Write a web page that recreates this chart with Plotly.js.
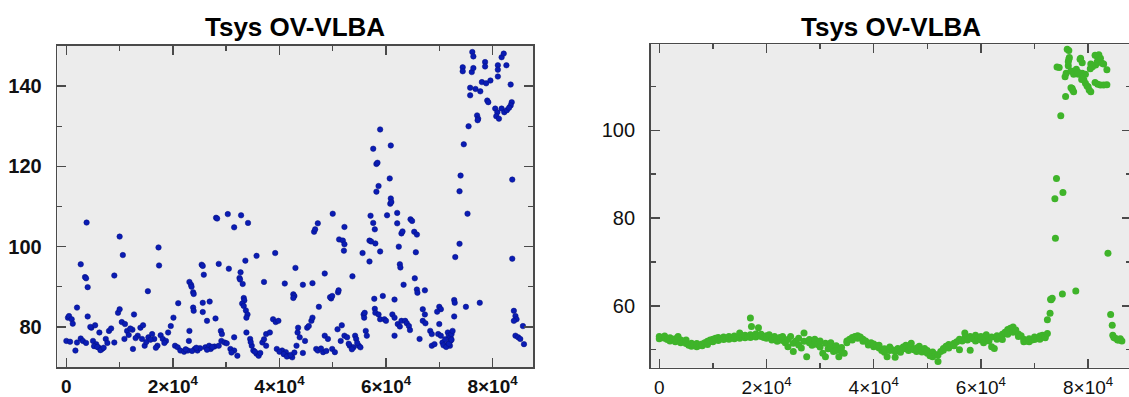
<!DOCTYPE html>
<html><head><meta charset="utf-8">
<script src="https://cdn.plot.ly/plotly-3.0.1.min.js"></script>
<style>html,body{margin:0;padding:0;overflow:hidden;background:#fff;}#chart{width:1134px;height:397px;}</style>
</head><body><div id="chart"></div>
<script>
// ---- data (x in units of 1e4, y = Tsys) ----
const blueX = [7.62,7.64,7.44,7.44,7.61,7.64,7.86,7.86,8.10,8.10,8.17,8.21,8.26,8.34,7.58,7.68,7.77,7.80,7.88,7.96,7.58,7.90,7.92,7.71,7.73,7.72,7.55,8.05,8.09,8.07,8.12,8.17,8.22,8.27,8.36,8.34,8.31,8.10,7.46,7.40,7.38,8.37,
6.09,5.89,5.76,5.82,5.84,6.07,5.86,5.82,6.09,6.08,6.10,
0.38,0.27,0.35,0.37,0.40,1.00,1.06,0.90,1.53,1.73,1.74,2.81,2.83,3.03,3.15,3.28,3.41,2.86,3.05,2.54,2.56,2.58,2.31,2.34,2.35,2.38,2.39,2.10,2.69,2.56,2.38,2.39,2.56,2.64,2.80,3.27,3.25,3.26,3.31,3.36,3.57,3.33,3.34,3.30,3.33,3.37,3.40,3.38,3.92,3.71,4.10,4.30,4.44,4.26,4.28,4.26,4.62,4.65,4.67,4.72,4.74,4.85,4.97,4.95,4.99,5.10,5.11,5.00,5.12,5.19,5.22,5.21,5.22,5.37,5.56,5.69,5.71,5.76,5.79,5.69,5.72,5.80,5.89,6.02,6.21,6.21,6.29,6.31,6.24,6.26,6.27,6.33,6.46,6.49,6.53,6.58,6.56,6.54,6.58,6.59,6.73,5.78,5.94,6.16,7.30,7.38,7.53,7.76,7.50,7.28,7.29,7.28,7.00,7.03,6.96,8.37,
0.00,0.07,0.03,0.05,0.10,0.17,0.20,0.20,0.27,0.31,0.37,0.40,0.47,0.54,0.50,0.56,0.60,0.67,0.62,0.74,0.77,0.80,0.84,0.90,0.97,1.00,
1.04,1.10,1.14,1.09,1.17,1.24,1.27,1.25,1.34,1.39,1.44,1.47,1.54,1.61,1.65,1.71,1.77,1.81,1.87,1.91,1.96,2.01,
2.04,2.09,2.14,2.21,2.28,2.30,2.31,2.41,2.46,2.51,2.61,2.68,2.71,2.78,2.86,2.91,2.97,3.01,2.90,2.92,3.08,3.15,3.21,3.15,
3.38,3.45,3.48,3.51,3.57,3.61,3.68,3.71,3.75,3.82,3.75,3.88,3.93,3.98,3.95,4.05,
4.12,4.18,4.24,4.32,4.34,4.35,4.38,4.44,4.48,4.52,4.55,4.60,4.62,4.69,4.72,4.82,4.85,4.91,4.99,5.04,
5.09,5.15,5.17,5.22,5.27,5.32,5.39,5.42,5.44,5.49,5.52,5.58,5.59,5.60,5.62,5.64,5.79,5.80,5.86,5.89,5.97,6.00,
6.12,6.16,6.16,6.22,6.26,6.29,6.36,6.39,6.43,6.45,6.63,6.69,6.73,6.69,6.74,6.83,6.86,6.86,6.91,7.00,6.98,7.03,
7.06,7.11,7.16,7.18,7.21,7.23,7.21,7.25,7.16,7.20,
8.40,8.43,8.45,8.57,8.43,8.48,8.52,8.59,8.40,
0.12,0.45,0.52,0.58,0.64,0.70,1.20,1.30,1.42,1.50,1.58,1.68,1.84,2.24,2.36,2.44,2.64,2.74,3.10,3.46,3.54,3.64,4.00,4.08,4.14,4.21,4.28,4.78,4.88,5.30,5.36,5.46,7.08,7.13,7.18,7.23];
const blueY = [148.5,147.4,144.7,143.7,143.5,144.5,146.0,144.9,145.2,144.1,147.2,148.1,145.2,140.4,139.6,139.3,138.7,141.0,140.7,141.4,137.7,136.4,136.0,132.7,131.9,131.5,130.0,134.4,133.5,132.5,131.9,134.4,133.5,134.0,136.0,135.2,134.6,142.4,125.5,117.7,113.8,116.7,
125.2,129.2,124.4,120.6,120.9,117.0,115.1,113.7,112.0,110.7,111.1,
106.0,95.6,92.4,92.1,89.9,102.5,97.9,92.8,88.9,99.8,95.3,107.2,107.0,108.1,104.8,107.8,105.9,95.7,94.5,95.5,95.2,93.0,91.2,90.5,90.0,88.6,88.2,85.9,86.3,86.0,84.8,84.0,83.7,81.5,82.1,93.6,92.2,91.8,90.7,96.5,97.7,87.2,86.6,85.8,85.2,84.1,83.1,82.3,98.4,91.2,90.8,94.7,90.5,88.1,87.7,87.2,90.9,103.7,104.3,105.8,85.0,93.3,87.1,87.4,87.7,88.6,89.1,108.2,101.8,101.5,100.6,99.0,104.9,92.6,98.4,96.3,107.7,105.9,104.3,101.5,101.3,100.8,98.8,107.8,108.4,105.8,103.3,103.8,100.0,95.6,94.8,90.5,106.8,106.4,103.7,103.0,98.6,92.1,89.3,88.5,89.1,87.0,87.7,86.8,97.4,100.7,108.2,86.0,85.0,86.7,86.0,82.6,85.0,84.4,83.8,97.0,
76.5,76.3,82.3,82.7,81.9,74.1,84.8,76.1,77.1,76.5,76.0,82.6,79.8,80.4,76.5,75.7,74.9,74.5,78.6,77.0,76.0,79.0,79.6,76.1,83.5,84.4,
81.2,80.7,79.0,77.0,78.0,79.3,83.1,74.5,77.8,79.8,80.4,75.3,77.4,78.2,77.0,75.3,77.9,77.0,76.5,78.6,80.2,82.3,
75.3,74.9,74.1,73.8,74.1,76.5,79.0,74.5,74.1,74.7,74.9,75.3,74.5,75.1,75.3,76.5,76.1,75.9,79.0,78.2,74.5,74.1,72.8,77.4,
78.6,77.0,75.3,74.1,73.3,72.8,76.1,76.9,78.2,78.6,75.3,81.9,81.2,81.5,74.5,74.1,
73.7,72.8,72.4,75.3,78.6,79.8,77.4,73.5,76.5,79.8,80.2,81.5,82.3,74.5,74.1,73.7,77.8,77.0,74.5,73.7,
79.4,76.5,80.4,77.8,77.4,75.3,74.9,77.8,77.0,75.3,74.9,83.1,82.3,83.5,79.0,77.8,84.5,83.5,83.1,81.9,81.9,81.5,
83.1,82.3,77.8,80.7,80.1,81.5,81.5,80.9,80.2,79.2,77.0,84.4,83.1,81.5,80.9,79.0,78.2,75.3,75.7,80.7,78.2,77.8,
76.1,76.9,78.6,77.8,77.4,78.2,76.5,79.0,75.7,75.3,
84.0,82.7,81.9,80.2,77.8,77.4,77.0,75.7,81.5,
80.8,80.0,75.2,75.0,74.2,74.8,79.6,77.2,77.0,76.2,76.8,74.8,76.0,74.4,74.0,74.8,74.3,75.0,73.6,76.2,73.8,73.5,73.8,73.2,72.6,73.0,73.6,74.6,74.0,75.8,74.4,76.0,75.4,75.0,75.8,76.8];

const greenX = [0.00,0.00,0.05,0.10,0.10,0.15,0.20,0.20,0.25,0.30,0.30,0.35,0.40,0.40,0.45,0.50,0.50,0.55,0.60,0.60,0.65,0.70,0.70,0.75,0.80,0.80,0.85,0.90,0.90,0.95,
1.00,1.00,1.05,1.10,1.10,1.15,1.20,1.20,1.25,1.30,1.30,1.35,1.40,1.40,1.45,1.50,1.50,1.55,1.60,1.60,1.65,1.70,1.70,1.70,1.72,1.75,1.80,1.80,1.85,1.85,1.90,1.90,1.95,
2.00,2.00,2.05,2.10,2.10,2.15,2.20,2.20,2.25,2.30,2.30,2.35,2.40,2.40,2.45,2.50,2.50,2.55,2.60,2.60,2.65,2.70,2.70,2.75,2.80,2.80,2.85,2.90,2.90,2.95,
3.00,3.00,3.05,3.10,3.10,3.15,3.20,3.20,3.25,3.30,3.30,3.35,3.40,3.40,3.45,3.50,3.50,3.55,3.60,3.60,3.65,3.70,3.70,3.75,3.80,3.80,3.85,3.90,3.90,3.95,
4.00,4.00,4.05,4.10,4.10,4.15,4.20,4.20,4.25,4.30,4.30,4.35,4.40,4.40,4.45,4.50,4.50,4.55,4.60,4.60,4.65,4.70,4.70,4.75,4.80,4.80,4.85,4.90,4.90,4.95,
5.00,5.00,5.05,5.10,5.10,5.15,5.20,5.20,5.25,5.30,5.30,5.35,5.40,5.40,5.45,5.50,5.50,5.55,5.60,5.60,5.65,5.70,5.70,5.75,5.80,5.80,5.85,5.90,5.90,5.95,
6.00,6.00,6.05,6.10,6.10,6.15,6.20,6.20,6.25,6.30,6.30,6.35,6.40,6.40,6.45,6.50,6.50,6.55,6.60,6.60,6.65,6.70,6.70,6.75,6.80,6.80,6.85,6.90,6.90,6.95,
7.00,7.00,7.05,7.10,7.10,7.15,7.20,7.20,7.24,
7.24,7.29,7.31,7.33,7.30,7.39,7.38,7.41,7.53,7.52,7.77,8.37,8.42,8.45,8.46,8.48,8.51,8.55,8.57,8.63,8.60,
7.61,7.64,7.46,7.42,7.49,7.58,7.63,7.64,7.65,7.63,7.86,7.89,7.70,7.73,7.76,7.82,7.89,7.95,7.92,7.95,8.00,8.02,8.05,8.14,8.17,8.17,8.20,8.23,8.26,8.29,8.35,8.23,8.29,8.35,8.13,8.18,7.57,7.59,7.68,7.73,7.78,7.81,7.85,7.88,7.98,8.05,8.08,8.13,8.04,7.68,7.71];
const greenY = [53.0,52.5,52.8,52.6,53.1,52.3,52.7,52.0,52.4,51.8,52.5,53.0,52.2,51.6,51.9,51.4,52.2,51.0,50.8,51.5,51.2,50.7,51.4,51.0,51.3,50.9,51.6,51.9,51.2,52.2,
52.4,51.8,52.6,52.1,52.8,52.5,52.9,52.3,52.6,52.4,53.0,52.7,53.1,52.5,52.8,53.8,52.6,53.0,52.7,53.3,53.0,53.4,52.8,57.2,55.3,53.2,53.6,52.9,53.3,55.0,53.0,53.5,52.8,
53.2,52.6,53.4,52.7,52.2,53.0,52.4,51.9,52.8,52.1,53.0,51.6,50.7,52.3,53.0,51.5,49.6,52.0,51.1,52.6,50.4,53.8,51.9,48.4,51.6,52.3,51.0,51.9,52.4,51.2,
50.6,52.0,49.2,51.5,48.4,50.2,50.7,51.6,49.6,50.9,49.8,48.4,49.6,50.5,49.2,52.0,51.6,52.4,52.8,52.2,53.0,53.2,52.6,52.9,52.4,51.9,52.0,51.5,51.1,51.6,
50.7,51.3,50.9,50.4,51.0,49.8,50.2,49.4,48.4,50.6,49.8,50.0,48.3,49.6,50.3,50.0,49.4,50.6,51.0,50.2,49.8,50.3,51.5,50.0,49.6,50.4,50.8,50.1,49.5,50.3,
49.2,49.8,48.6,49.5,48.4,48.9,47.3,48.8,49.6,50.3,49.9,50.8,51.2,50.4,51.0,51.5,50.9,51.8,52.4,50.0,52.0,52.7,53.8,52.2,53.0,49.9,52.5,53.3,52.0,52.7,
52.2,53.0,51.6,52.6,53.4,52.0,52.9,50.7,50.3,52.4,53.2,52.8,53.5,52.3,54.0,54.6,53.5,54.9,55.2,54.0,54.5,53.6,53.0,53.2,52.4,51.8,52.0,51.8,52.5,52.2,
52.9,52.3,52.6,53.1,52.4,53.3,53.0,52.7,53.7,
56.8,58.3,61.4,61.7,61.5,75.4,84.4,89.0,85.8,62.7,63.4,72.0,58.0,55.6,53.3,52.8,52.6,52.2,52.2,52.0,52.5,
118.5,118.2,114.3,114.4,103.3,107.7,114.7,116.2,116.6,115.6,116.4,115.4,109.6,108.8,113.4,112.8,113.0,112.8,111.5,110.7,109.9,109.2,108.8,114.9,115.6,116.8,117.2,116.4,115.3,115.1,113.8,110.3,110.3,110.4,110.9,110.5,112.2,113.0,113.5,112.8,113.9,113.3,116.2,111.6,110.1,115.1,114.5,117.1,114.0,109.7,109.2];

const xTickVals = [0, 20000, 40000, 60000, 80000];
const xTickText = ['0', '2×10<sup>4</sup>', '4×10<sup>4</sup>', '6×10<sup>4</sup>', '8×10<sup>4</sup>'];
const xMinorVals = [10000, 30000, 50000, 70000];
const titleText = 'Tsys OV-VLBA';

// ---- layout ----
const W = 1134, H = 397;
const scale = v => v * 10000;
const axCol = '#4a4a4a';
function xAxis(dom, range, bold, anchor) {
  return {domain: dom, range: range, anchor: anchor, tickmode: 'array', tickvals: xTickVals, ticktext: xTickText,
    ticks: 'inside', ticklen: 9, tickwidth: 1.4, tickcolor: axCol, showline: true, linecolor: axCol, linewidth: 1.6,
    mirror: 'ticks', showgrid: false, zeroline: false, ticklabelstandoff: 2,
    tickfont: {family: 'Liberation Sans, Arial, sans-serif', size: 19, color: '#111', weight: bold ? 'bold' : 'normal'},
    minor: {tickmode: 'array', tickvals: xMinorVals, ticks: 'inside', ticklen: 5, tickwidth: 1.4, tickcolor: axCol, showgrid: false}};
}
function yAxis(dom, range, bold, anchor) {
  return {domain: dom, range: range, anchor: anchor, tickmode: 'linear', tick0: 0, dtick: 20,
    ticks: 'inside', ticklen: 9, tickwidth: 1.4, tickcolor: axCol, showline: true, linecolor: axCol, linewidth: 1.6,
    mirror: 'ticks', showgrid: false, zeroline: false, ticklabelstandoff: 10,
    tickfont: {family: 'Liberation Sans, Arial, sans-serif', size: 20, color: '#111', weight: bold ? 'bold' : 'normal'},
    minor: {dtick: 10, ticks: 'inside', ticklen: 5, tickwidth: 1.4, tickcolor: axCol, showgrid: false}};
}

const traces = [
  {x: blueX.map(scale), y: blueY, type: 'scatter', mode: 'markers', xaxis: 'x', yaxis: 'y',
   marker: {color: '#0a1cb4', size: 5.5, line: {width: 0.5, color: '#061080'}}, hoverinfo: 'skip'},
  {x: greenX.map(scale), y: greenY, type: 'scatter', mode: 'markers', xaxis: 'x2', yaxis: 'y2',
   marker: {color: '#3fb42a', size: 7}, hoverinfo: 'skip'}
];

const layout = {
  width: W, height: H, margin: {l: 0, r: 0, t: 0, b: 0},
  paper_bgcolor: '#ffffff', plot_bgcolor: '#ececec', showlegend: false,
  xaxis: xAxis([57.3 / W, 533.3 / W], [-1700, 87650], true, 'y'),
  yaxis: yAxis([1 - 367 / H, 1 - 46 / H], [70, 150], true, 'x'),
  xaxis2: xAxis([650.7 / W, 1131 / W], [-1600, 88000], false, 'y2'),
  yaxis2: yAxis([1 - 367.7 / H, 1 - 44.3 / H], [45.9, 119.6], false, 'x2'),
  annotations: [
    {text: titleText, xref: 'paper', yref: 'paper', x: 295.3 / W, y: 1 - 27 / H, xanchor: 'center', yanchor: 'middle', showarrow: false,
     font: {family: 'Liberation Sans, Arial, sans-serif', size: 26, color: '#000', weight: 'bold'}},
    {text: titleText, xref: 'paper', yref: 'paper', x: 890.8 / W, y: 1 - 27 / H, xanchor: 'center', yanchor: 'middle', showarrow: false,
     font: {family: 'Liberation Sans, Arial, sans-serif', size: 26, color: '#000', weight: 'bold'}}
  ]
};

Plotly.newPlot('chart', traces, layout, {staticPlot: true, displayModeBar: false});
</script>
</body></html>
